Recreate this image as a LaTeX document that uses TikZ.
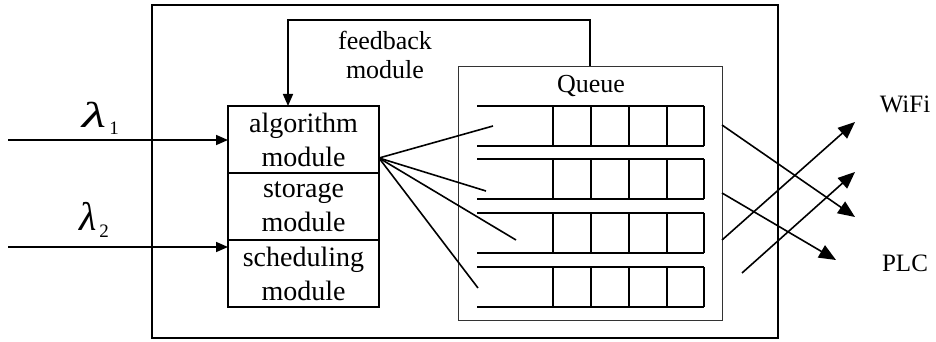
\documentclass[tikz,border=0pt]{standalone}
\usepackage{fontspec}
\setmainfont{Liberation Serif}
\usetikzlibrary{arrows.meta}
\begin{document}
\begin{tikzpicture}[x=1pt,y=-1pt,
  line/.style={line width=1.6pt,black},
  modbox/.style={draw,line width=1.6pt,minimum width=151pt,minimum height=67pt,inner sep=0pt,align=center,font=\fontsize{28}{34}\selectfont},
  lbl/.style={inner sep=0pt,align=center,font=\fontsize{26}{29}\selectfont},
  lam/.style={inner sep=0pt,font=\fontsize{40}{40}\selectfont\itshape},
  sub/.style={inner sep=0pt,font=\fontsize{19}{19}\selectfont},
  intip/.style={-{Triangle[length=12pt,width=10pt]}},
  outtip/.style={-{Triangle[length=17pt,width=14pt]}}]
\useasboundingbox (0,0) rectangle (936,342);
% outer frame
\node[draw,line width=1.4pt,minimum width=626pt,minimum height=333pt,inner sep=0pt] (frame) at (465,171.5) {};
% modules
\node[modbox] (alg) at (303.5,139.5) {algorithm\\module};
\node[modbox] (sto) at (303.5,206.5) {storage\\module};
\node[modbox] (sch) at (303.5,273.5) {scheduling\\module};
% queue box
\node[draw,line width=0.9pt,draw=black!80,minimum width=264pt,minimum height=254pt,inner sep=0pt] (queue) at (590,193) {};
\node[lbl] (qlabel) at (591,86) {Queue};
% queue rows
\foreach \t/\b [count=\i] in {106/146,159/199,213/253,267/307}{
  \draw[line] (477,\t) -- (704,\t);
  \draw[line] (477,\b) -- (704,\b);
  \foreach \xx in {553,591,629,667,704}{
    \draw[line] (\xx,\t) -- (\xx,\b);
  }
}
% feedback
\node[lbl] (fb) at (385,55) {feedback\\module};
\coordinate (fbs) at (590,66);
\coordinate (fbt) at (288,106);
\draw[line,intip] (fbs) -- (590,20) -| (fbt);
% inputs
\coordinate (in1) at (8,140);
\coordinate (in2) at (8,247);
\coordinate (alginp) at (228,140);
\coordinate (schinp) at (228,247);
\draw[line,intip] (in1) -- (alginp);
\draw[line,intip] (in2) -- (schinp);
\node[lam,font=\fontsize{36}{36}\selectfont\itshape,xscale=1.55] (l1) at (94,115) {λ};
\node[sub] (l1s) at (114,128) {1};
\node[lam] (l2) at (88,216) {λ};
\node[sub] (l2s) at (104,231) {2};
% fan
\coordinate (fan) at (379,158);
\coordinate (f1) at (493,126);
\coordinate (f2) at (486,191);
\coordinate (f3) at (516,240);
\coordinate (f4) at (478,288);
\foreach \f in {f1,f2,f3,f4} \draw[line] (fan) -- (\f);
% outputs
\coordinate (o1s) at (722,125);
\coordinate (o1t) at (855,217);
\coordinate (o2s) at (722,193);
\coordinate (o2t) at (836,260);
\coordinate (o3s) at (722,240);
\coordinate (o3t) at (855,122);
\coordinate (o4s) at (742,273);
\coordinate (o4t) at (855,172);
\draw[line,outtip] (o1s) -- (o1t);
\draw[line,outtip] (o2s) -- (o2t);
\draw[line,outtip] (o3s) -- (o3t);
\draw[line,outtip] (o4s) -- (o4t);
\node[lbl,font=\fontsize{25}{29}\selectfont] (wifi) at (905,104) {WiFi};
\node[lbl,font=\fontsize{25}{29}\selectfont] (plc) at (905,263) {PLC};
\end{tikzpicture}
\end{document}
